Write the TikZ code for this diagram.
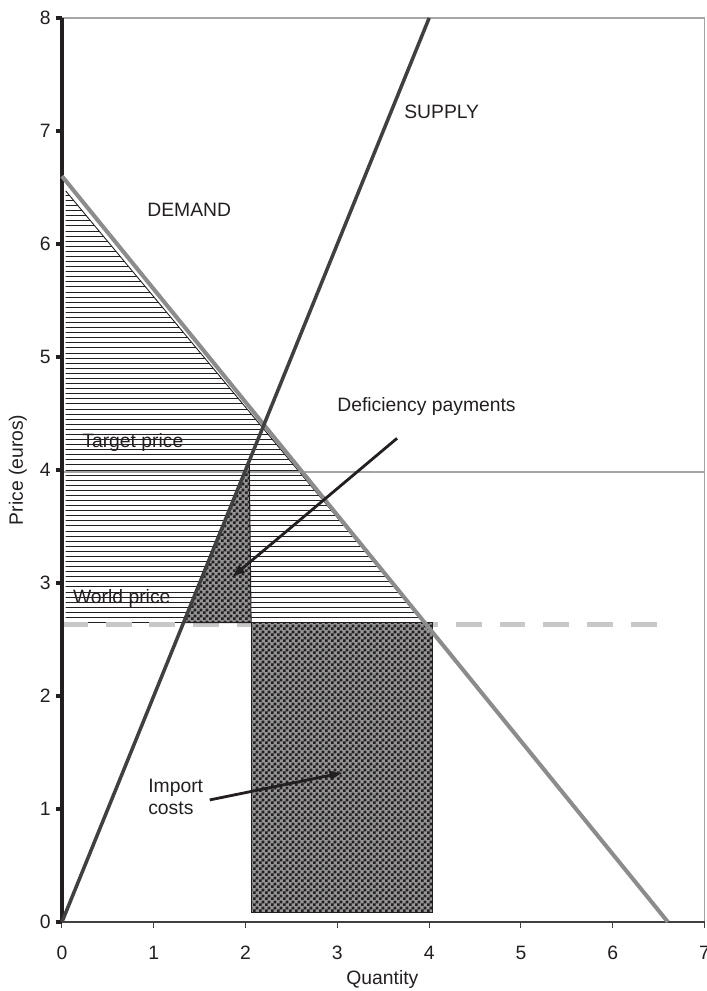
\documentclass[tikz,border=0pt]{standalone}
\usepackage{fontspec}
\setmainfont{Liberation Sans}
\usetikzlibrary{patterns}

\definecolor{demandgray}{RGB}{140,140,140}
\definecolor{supplygray}{RGB}{64,64,64}
\definecolor{targetgray}{RGB}{165,165,165}
\definecolor{worldgray}{RGB}{200,200,200}
\definecolor{inkblack}{RGB}{35,31,32}
\definecolor{checkgray}{RGB}{150,150,150}

\pgfdeclarepatternformonly{finechecks}{\pgfpointorigin}{\pgfqpoint{3.2pt}{3.2pt}}{\pgfqpoint{3.2pt}{3.2pt}}{
  \pgfpathrectangle{\pgfpointorigin}{\pgfqpoint{1.6pt}{1.6pt}}
  \pgfpathrectangle{\pgfqpoint{1.6pt}{1.6pt}}{\pgfqpoint{1.6pt}{1.6pt}}
  \pgfusepath{fill}}

\tikzset{checked/.style={pattern=finechecks, pattern color=inkblack}}

\begin{document}
\begin{tikzpicture}[x=1.836cm, y=2.26cm, font=\fontsize{11}{13}\selectfont,
  every node/.style={text=inkblack}]
\useasboundingbox (-0.675,-0.611) rectangle (7.026,8.159);

% hatched area under demand
\begin{scope}
\clip (0.04,6.47) -- (3.95,2.65) -- (0.04,2.65) -- cycle;
\foreach \k in {0,...,85}
  \draw[inkblack, line width=0.5pt] (0,2.65+0.045*\k) -- (4,2.65+0.045*\k);
\end{scope}
\draw[inkblack, line width=0.5pt] (0.04,6.47) -- (3.95,2.65) -- (0.04,2.65);

\draw[targetgray, line width=1.2pt] (0,3.98) -- (7,3.98);
\draw[worldgray, line width=2.6pt, dash pattern=on 14.7pt off 10.2pt] (0,2.63) -- (6.62,2.63);

% checked areas
\fill[checkgray] (1.33,2.65) -- (2.04,4.08) -- (2.06,2.65) -- cycle;
\fill[checked] (1.33,2.65) -- (2.04,4.08) -- (2.06,2.65) -- cycle;
\draw[inkblack, line width=0.6pt] (2.04,4.08) -- (2.06,2.65) -- (1.33,2.65);
\fill[checkgray] (2.06,0.08) rectangle (4.04,2.65);
\draw[inkblack, line width=0.6pt, checked] (2.06,0.08) rectangle (4.04,2.65);

% frame and axes
\draw[targetgray, line width=0.8pt] (0,8) -- (7,8) -- (7,0);
\draw[supplygray, line width=0.9pt] (0,0) -- (7,0);
\foreach \x in {0,...,7} {
  \draw[supplygray, line width=0.6pt] (\x,0) -- (\x,-0.05);
  \node (xt\x) at (\x,-0.274) {\x};
}
\draw[inkblack, line width=2.3pt] (0,0) -- (0,8);
\foreach \y in {0,...,8} {
  \draw[inkblack, line width=2.3pt] (-0.07,\y) -- (0,\y);
  \node[anchor=east, inner sep=0pt] (yt\y) at (-0.12,\y) {\y};
}
\node (xlabel) at (3.49,-0.513) {Quantity};
\node[rotate=90] (ylabel) at (-0.48,4.0) {Price (euros)};

% demand and supply
\draw[demandgray, line width=2.3pt] (0,6.6) -- (6.6,0);
\draw[supplygray, line width=2pt] (0,0) -- (4,8);

% labels
\node[anchor=west, inner sep=0pt] (demand) at (0.926,6.30) {DEMAND};
\node[anchor=west, inner sep=0pt] (supply) at (3.725,7.17) {SUPPLY};
\node[anchor=west, inner sep=0pt] (target) at (0.218,4.24) {Target price};
\node[anchor=west, inner sep=0pt] (world) at (0.117,2.86) {World price};
\node[anchor=west, inner sep=0pt] (defic) at (2.996,4.56) {Deficiency payments};
\node[anchor=west, inner sep=0pt, align=left] (import) at (0.937,1.106) {Import\\costs};

\coordinate (deftail) at (3.65,4.28);
\coordinate (deftip) at (1.85,3.05);
\coordinate (imptail) at (1.61,1.08);
\coordinate (imptip) at (3.06,1.32);
\draw[inkblack, line width=1.6pt, >=latex, ->] (deftail) -- (deftip);
\draw[inkblack, line width=1.6pt, >=latex, ->] (imptail) -- (imptip);

\end{tikzpicture}
\end{document}
